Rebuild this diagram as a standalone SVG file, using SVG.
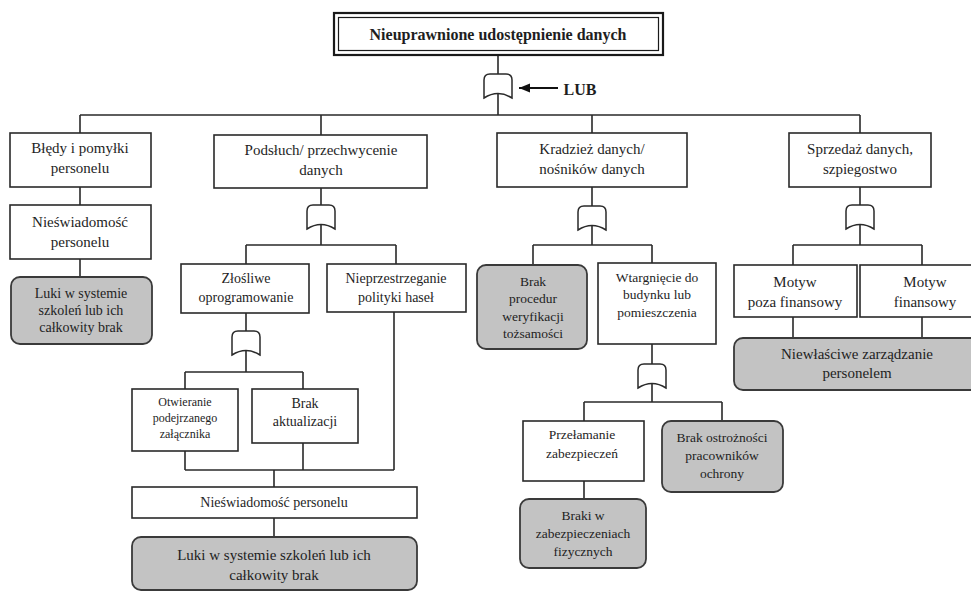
<svg xmlns="http://www.w3.org/2000/svg" xmlns:xlink="http://www.w3.org/1999/xlink" width="971" height="592" viewBox="0 0 971 592" font-family="'Liberation Serif', 'DejaVu Serif', serif">
<style>
.box{fill:#fff;stroke:#2a2a2a;stroke-width:1.6}
.gray{fill:#c3c3c3;stroke:#3a3a3a;stroke-width:1.8}
.ln{fill:none;stroke:#2a2a2a;stroke-width:1.6}
.gate{fill:#fff;stroke:#2a2a2a;stroke-width:1.5}
text{font-family:'Liberation Serif','DejaVu Serif',serif;fill:#1e1e1e;text-anchor:middle;dominant-baseline:central;font-size:15px}
.s14{font-size:14px}
.s13{font-size:13.5px}
.s12{font-size:12px}
.b{font-weight:bold;font-size:16px}
</style>
<defs>
<symbol id="g" overflow="visible">
<path class="gate" d="M-14,24 V6 Q-14,0 -8,0 H8 Q14,0 14,6 V24 Q0,15 -14,24 Z"/>
</symbol>
<marker id="ah" markerWidth="12" markerHeight="10" refX="11" refY="5" orient="auto" markerUnits="userSpaceOnUse">
<path d="M0,0.5 L11,5 L0,9.5 Z" fill="#111"/>
</marker>
</defs>
<rect width="971" height="592" fill="#fff"/>
<g id="connectors">
<path class="ln" d="M498,55 V74 M498,93 V115 M80,115 H860 M80,115 V133 M321,115 V135 M592,115 V133 M860,115 V133"/>
<path class="ln" d="M80,187 V205 M80,259 V277"/>
<path class="ln" d="M321,188 V205 M321,224 V245 M246,245 H396 M246,245 V264 M396,245 V264"/>
<path class="ln" d="M246,313 V331 M246,350 V372 M185,372 H303 M185,372 V389 M303,372 V389"/>
<path class="ln" d="M185,451 V470 M303,443 V470 M394,312 V470 M185,470 H394 M274,470 V487 M274,518 V537"/>
<path class="ln" d="M592,187 V206 M592,225 V245 M533,245 H652 M533,245 V265 M652,245 V263"/>
<path class="ln" d="M652,344 V364 M652,383 V402 M584,402 H722 M584,402 V421 M722,402 V421 M584,481 V499"/>
<path class="ln" d="M860,187 V205 M860,224 V245 M793,245 H922 M793,245 V265 M922,245 V265 M793,317 V338 M922,317 V338"/>
<line x1="558" y1="88" x2="519" y2="88" stroke="#111" stroke-width="1.8" marker-end="url(#ah)"/>
</g>
<g id="gates">
<use xlink:href="#g" x="498" y="74"/>
<use xlink:href="#g" x="321" y="205"/>
<use xlink:href="#g" x="592" y="206"/>
<use xlink:href="#g" x="860" y="205"/>
<use xlink:href="#g" x="246" y="331"/>
<use xlink:href="#g" x="652" y="364"/>
</g>
<g id="top">
<rect x="334" y="13" width="329" height="42" fill="#fff" stroke="#1a1a1a" stroke-width="2.2"/>
<rect x="338.5" y="17.5" width="320" height="33" fill="none" stroke="#1a1a1a" stroke-width="1.2"/>
<text class="b" x="498" y="34">Nieuprawnione udostępnienie danych</text>
</g>
<g id="lub"><text class="b" x="580" y="89">LUB</text></g>
<g id="n1"><rect class="box" x="10" y="133" width="141" height="54"/><text x="80" y="148">Błędy i pomyłki</text><text x="80" y="168">personelu</text></g>
<g id="n2"><rect class="box" x="214" y="135" width="213" height="53"/><text x="321" y="150">Podsłuch/ przechwycenie</text><text x="321" y="170">danych</text></g>
<g id="n3"><rect class="box" x="497" y="133" width="190" height="54"/><text x="592" y="149">Kradzież danych/</text><text x="592" y="169">nośników danych</text></g>
<g id="n4"><rect class="box" x="789" y="133" width="142" height="54"/><text x="860" y="149">Sprzedaż danych,</text><text x="860" y="169">szpiegostwo</text></g>
<g id="n5"><rect class="box" x="10" y="205" width="141" height="54"/><text x="80" y="222">Nieświadomość</text><text x="80" y="242">personelu</text></g>
<g id="n6"><rect class="gray" x="11" y="277" width="141" height="67" rx="9"/><text class="s14" x="81" y="293">Luki w systemie</text><text class="s14" x="81" y="310">szkoleń lub ich</text><text class="s14" x="81" y="327">całkowity brak</text></g>
<g id="n7"><rect class="box" x="181" y="264" width="128" height="49"/><text class="s14" x="246" y="278">Złośliwe</text><text class="s14" x="246" y="297">oprogramowanie</text></g>
<g id="n8"><rect class="box" x="327" y="264" width="139" height="48"/><text class="s14" x="396" y="278">Nieprzestrzeganie</text><text class="s14" x="396" y="297">polityki haseł</text></g>
<g id="n9"><rect class="box" x="132" y="389" width="106" height="62"/><text class="s12" x="185" y="402">Otwieranie</text><text class="s12" x="185" y="418">podejrzanego</text><text class="s12" x="185" y="434">załącznika</text></g>
<g id="n10"><rect class="box" x="252" y="389" width="106" height="54"/><text class="s14" x="305" y="403">Brak</text><text class="s14" x="305" y="421">aktualizacji</text></g>
<g id="n11"><rect class="box" x="132" y="487" width="285" height="31"/><text class="s14" x="274" y="502">Nieświadomość personelu</text></g>
<g id="n12"><rect class="gray" x="132" y="537" width="285" height="53" rx="9"/><text x="274" y="555">Luki w systemie szkoleń lub ich</text><text x="274" y="575">całkowity brak</text></g>
<g id="n13"><rect class="gray" x="477" y="265" width="110" height="84" rx="9"/><text class="s13" x="533" y="281">Brak</text><text class="s13" x="533" y="298">procedur</text><text class="s13" x="533" y="316">weryfikacji</text><text class="s13" x="533" y="333">tożsamości</text></g>
<g id="n14"><rect class="box" x="598" y="263" width="118" height="81"/><text class="s13" x="657" y="277">Wtargnięcie do</text><text class="s13" x="657" y="294">budynku lub</text><text class="s13" x="657" y="312">pomieszczenia</text></g>
<g id="n15"><rect class="box" x="523" y="421" width="121" height="60"/><text class="s13" x="582" y="434">Przełamanie</text><text class="s13" x="582" y="453">zabezpieczeń</text></g>
<g id="n16"><rect class="gray" x="662" y="421" width="121" height="71" rx="9"/><text class="s13" x="722" y="437">Brak ostrożności</text><text class="s13" x="722" y="455">pracowników</text><text class="s13" x="722" y="473">ochrony</text></g>
<g id="n17"><rect class="gray" x="520" y="499" width="126" height="69" rx="9"/><text class="s13" x="583" y="515">Braki w</text><text class="s13" x="583" y="533">zabezpieczeniach</text><text class="s13" x="583" y="551">fizycznych</text></g>
<g id="n18"><rect class="box" x="734" y="265" width="123" height="52"/><text x="795" y="282">Motyw</text><text x="795" y="302">poza finansowy</text></g>
<g id="n19"><rect class="box" x="860" y="265" width="120" height="52"/><text x="925" y="282">Motyw</text><text x="925" y="302">finansowy</text></g>
<g id="n20"><rect class="gray" x="734" y="338" width="250" height="52" rx="9"/><text x="857" y="354">Niewłaściwe zarządzanie</text><text x="857" y="373">personelem</text></g>
</svg>
